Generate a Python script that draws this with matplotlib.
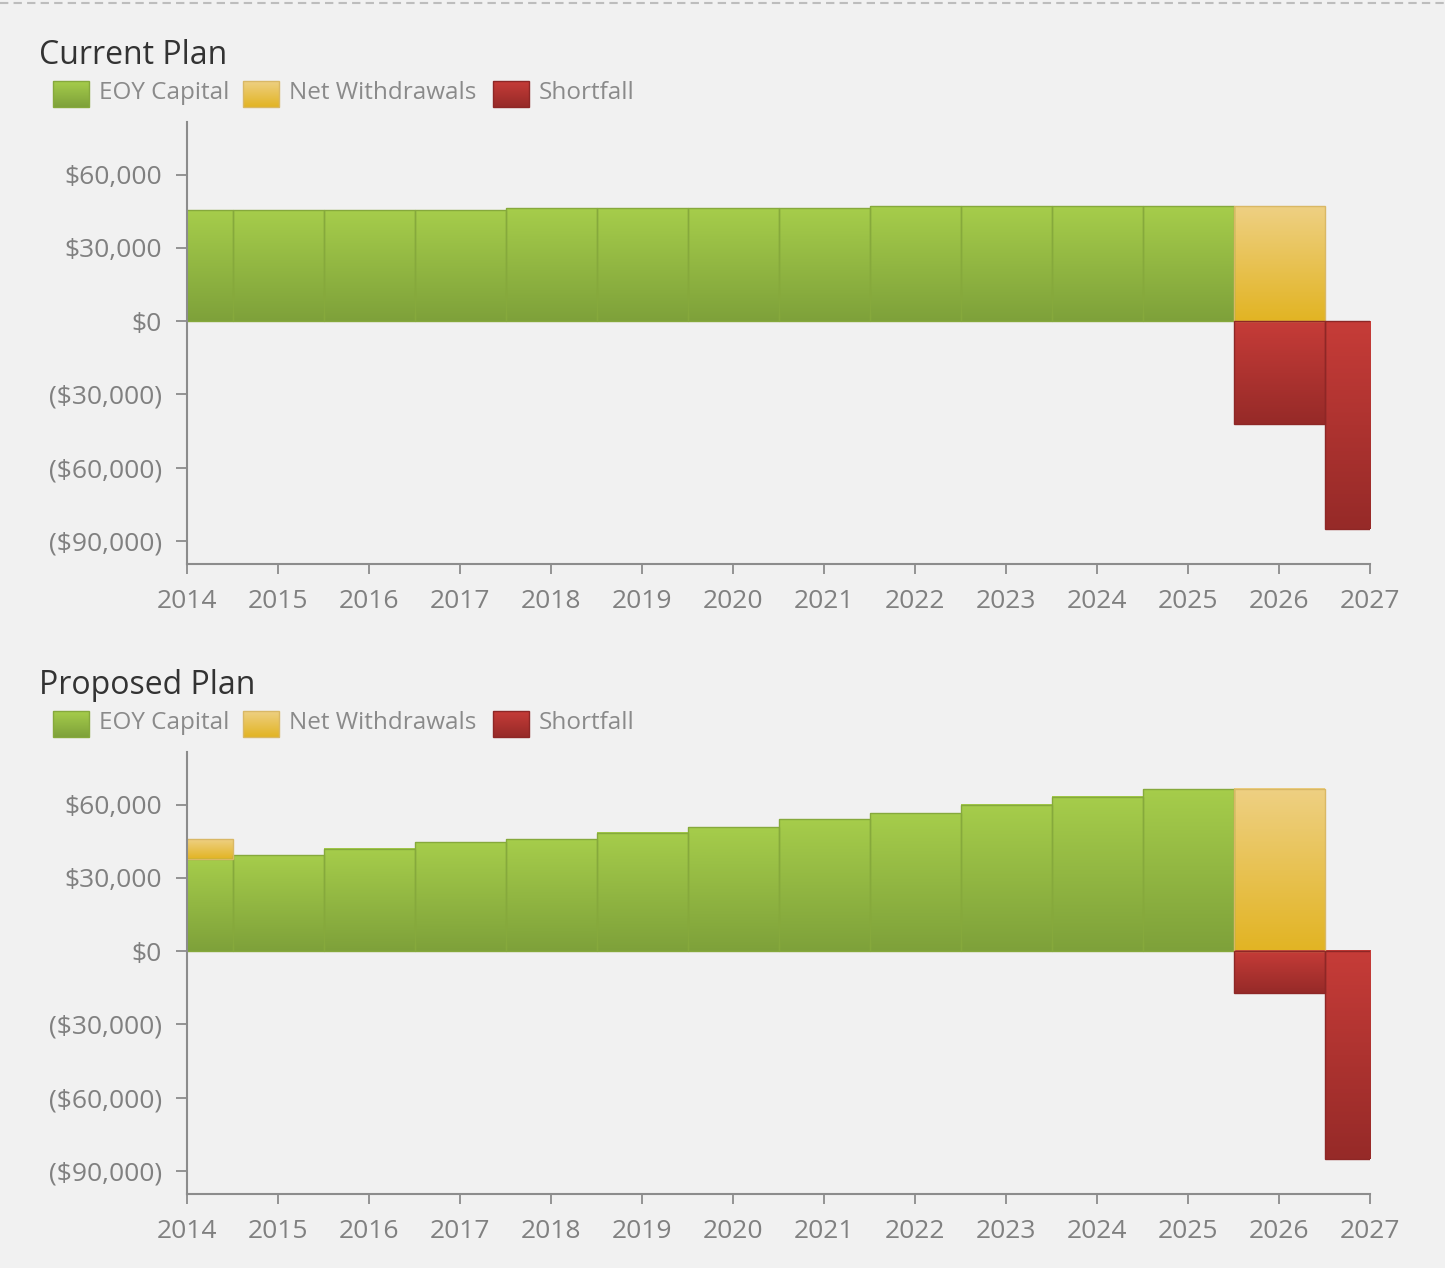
import matplotlib.pyplot as plt
import numpy as np
from matplotlib.colors import LinearSegmentedColormap
from matplotlib.patches import Rectangle
from matplotlib.ticker import FuncFormatter

plt.rcParams['font.family'] = ['Open Sans', 'DejaVu Sans']

years = [2014, 2015, 2016, 2017, 2018, 2019, 2020,
         2021, 2022, 2023, 2024, 2025, 2026, 2027]

# end-of-year capital, withdrawals stacked on top of it, shortfall below zero
current_capital = [45300, 45300, 45300, 45300, 46100, 46100, 46100,
                   46100, 47000, 47000, 47000, 47000, 0, 0]
current_withdrawals = [0, 0, 0, 0, 0, 0, 0, 0, 0, 0, 0, 0, 46900, 0]
current_shortfall = [0, 0, 0, 0, 0, 0, 0, 0, 0, 0, 0, 0, -42100, -85000]

proposed_capital = [37700, 39300, 41900, 44500, 45700, 48500, 50600,
                    53900, 56500, 59900, 63200, 66300, 0, 0]
proposed_withdrawals = [8100, 0, 0, 0, 0, 0, 0, 0, 0, 0, 0, 0, 66500, 0]
proposed_shortfall = [0, 0, 0, 0, 0, 0, 0, 0, 0, 0, 0, 0, -17300, -85300]

yticks = [-90000, -60000, -30000, 0, 30000, 60000]
panel_titles = ['Current Plan', 'Proposed Plan']
series_labels = ['EOY Capital', 'Net Withdrawals', 'Shortfall']

W, H = 1445, 1268
BG = '#f1f1f1'
AXIS_GREY = '#8c8c8c'
TEXT_GREY = '#808080'

# (bottom colour, top colour, edge colour)
GREEN = ('#7ea13a', '#a6cd4b', '#86a93c')
YELLOW = ('#e2b423', '#eed083', '#d9b865')
RED = ('#962a28', '#c63c38', '#8e2726')
PALETTE = [GREEN, YELLOW, RED]


def shade(ax, patch, colors):
    """Fill a rectangle with a vertical gradient, light on top."""
    lo, hi, edge = colors
    cmap = LinearSegmentedColormap.from_list('bar', [lo, hi])
    x0, y0 = patch.get_xy()
    x1 = x0 + patch.get_width()
    y1 = y0 + patch.get_height()
    im = ax.imshow(np.linspace(0, 1, 256).reshape(-1, 1), cmap=cmap,
                   origin='lower', aspect='auto', interpolation='bilinear',
                   extent=(x0, x1, min(y0, y1), max(y0, y1)), zorder=1)
    im.set_clip_path(patch)
    im.set_clip_box(ax.bbox)
    patch.set_facecolor('none')
    patch.set_edgecolor(edge)
    patch.set_zorder(2)


def money(v, pos=None):
    if v < 0:
        return f'(${-v:,.0f})'
    return f'${v:,.0f}'


def draw_panel(ax, capital, withdrawals, shortfall):
    x = np.array(years)
    capital = np.array(capital)
    withdrawals = np.array(withdrawals)
    shortfall = np.array(shortfall)
    zero = np.zeros_like(capital)

    for vals, base, colors in [(capital, zero, GREEN),
                               (withdrawals, capital, YELLOW),
                               (shortfall, zero, RED)]:
        keep = vals != 0
        bars = ax.bar(x[keep], vals[keep], bottom=base[keep], width=1.0,
                      linewidth=1.0)
        for b in bars:
            shade(ax, b, colors)

    ax.set_facecolor(BG)
    ax.set_xlim(2014, 2027)
    ax.set_ylim(-99500, 81500)
    ax.set_xticks(years)
    ax.set_yticks(yticks)
    ax.yaxis.set_major_formatter(FuncFormatter(money))

    for side in ['top', 'right']:
        ax.spines[side].set_visible(False)
    for side in ['left', 'bottom']:
        ax.spines[side].set_color(AXIS_GREY)
        ax.spines[side].set_linewidth(1.5)

    ax.tick_params(direction='out', color=AXIS_GREY, width=1.3,
                   labelcolor=TEXT_GREY, labelsize=19)
    ax.tick_params(axis='y', length=8, pad=10)
    ax.tick_params(axis='x', length=7, pad=11)


fig = plt.figure(figsize=(W / 100, H / 100), dpi=100, facecolor=BG)

panel_tops = [122, 752]
axes_h = 442
panels = [(current_capital, current_withdrawals, current_shortfall),
          (proposed_capital, proposed_withdrawals, proposed_shortfall)]

for top, data in zip(panel_tops, panels):
    ax = fig.add_axes([187 / W, 1 - (top + axes_h) / H, 1183 / W, axes_h / H])
    draw_panel(ax, *data)

# overlay in pixel units for titles, legends and the dashed rule
over = fig.add_axes([0, 0, 1, 1])
over.set_xlim(0, W)
over.set_ylim(0, H)
over.axis('off')
over.patch.set_alpha(0)

over.plot([0, W], [H - 3, H - 3], color='#bdbdbd', lw=1.5,
          ls=(0, (4, 2.5)))

swatch_x = [53, 243, 493]
label_x = [99, 289, 539]
for i, title in enumerate(panel_titles):
    dy = i * 630
    over.text(39, H - 64 - dy, title, fontsize=23, color='#333333',
              va='baseline', ha='left')
    for sx, lx, label, colors in zip(swatch_x, label_x, series_labels,
                                     PALETTE):
        sq = Rectangle((sx, H - 107 - dy), 36, 26, linewidth=1.0)
        over.add_patch(sq)
        shade(over, sq, colors)
        over.text(lx, H - 93 - dy, label, fontsize=17.5, color='#8a8a8a',
                  va='center', ha='left')

over.set_xlim(0, W)
over.set_ylim(0, H)

fig.savefig('out.png', dpi=100, facecolor=BG)
